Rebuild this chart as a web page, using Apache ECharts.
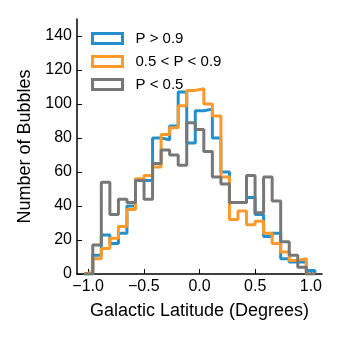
<!DOCTYPE html>
<html>
<head>
<meta charset="utf-8">
<script src="https://cdn.jsdelivr.net/npm/echarts@6/dist/echarts.min.js"></script>
<style>
  html, body { margin: 0; padding: 0; background: #fff; }
  #chart { width: 341px; height: 341px; }
</style>
</head>
<body>
<div id="chart"></div>
<script>
// histogram bins along galactic latitude (27 bins)
var binStart = -1.035;
var binWidth = 0.0767;

// counts per bin
var pHigh = [0, 11, 23, 18, 24, 40, 55, 55, 80, 79, 87, 107, 77, 96, 97, 80, 60, 42, 42, 45, 35, 22, 24, 9, 7, 7, 2];
var pMid  = [1, 9, 15, 21, 28, 38, 56, 58, 63, 82, 86, 99, 108, 109, 100, 93, 57, 32, 37, 29, 31, 24, 18, 13, 8, 9, 0];
var pLow  = [0, 17, 54, 35, 44, 42, 55, 44, 65, 73, 70, 64, 89, 85, 72, 57, 53, 42, 42, 58, 36, 57, 43, 19, 11, 4, 0];

var seriesNames = ['P > 0.9', '0.5 < P < 0.9', 'P < 0.5'];
var seriesColors = ['#2390cb', '#ff9a2a', '#777777'];

var xTicks = [-1.0, -0.5, 0.0, 0.5, 1.0];
var yTicks = [0, 20, 40, 60, 80, 100, 120, 140];

var font = 'Liberation Sans, Helvetica, Arial, sans-serif';

// turn counts into outline points for a step line
function stepPoints(counts) {
    var pts = [[binStart, 0]];
    for (var i = 0; i < counts.length; i++) {
        pts.push([binStart + i * binWidth, counts[i]]);
    }
    pts.push([binStart + counts.length * binWidth, 0]);
    return pts;
}

var allCounts = [pHigh, pMid, pLow];

var chart = echarts.init(document.getElementById('chart'), null, { renderer: 'canvas' });

chart.setOption({
    animation: false,
    textStyle: { fontFamily: font },
    grid: { left: 77, right: 19, top: 19, bottom: 67 },
    legend: {
        orient: 'vertical',
        left: 91,
        top: 31,
        padding: 0,
        itemWidth: 30,
        itemHeight: 10,
        itemGap: 8,
        icon: 'rect',
        textStyle: { fontSize: 15, color: '#000', lineHeight: 14, padding: [0, 0, 0, 8], fontFamily: font },
        data: seriesNames.map(function (n, i) {
            return {
                name: n,
                itemStyle: { color: 'transparent', borderColor: seriesColors[i], borderWidth: 3 }
            };
        })
    },
    xAxis: {
        type: 'value',
        min: -1.1,
        max: 1.1,
        name: 'Galactic Latitude (Degrees)',
        nameLocation: 'middle',
        nameGap: 28,
        nameTextStyle: { fontSize: 18, color: '#000', fontFamily: font },
        axisLine: { show: true, onZero: false, lineStyle: { color: '#000', width: 1.5 } },
        axisTick: { show: true, inside: true, length: 5, customValues: xTicks, lineStyle: { color: '#000', width: 1 } },
        axisLabel: {
            fontSize: 16, color: '#000', margin: 5,
            customValues: xTicks,
            formatter: function (v) { return v.toFixed(1).replace('-', '\u2212'); }
        },
        splitLine: { show: false }
    },
    yAxis: {
        type: 'value',
        min: 0,
        max: 150,
        name: 'Number of Bubbles',
        nameLocation: 'middle',
        nameGap: 36,
        nameTextStyle: { fontSize: 18, color: '#000', fontFamily: font },
        axisLine: { show: true, onZero: false, lineStyle: { color: '#000', width: 1.5 } },
        axisTick: { show: true, inside: true, length: 5, customValues: yTicks, lineStyle: { color: '#000', width: 1 } },
        axisLabel: { fontSize: 16, color: '#000', margin: 5, customValues: yTicks },
        splitLine: { show: false }
    },
    series: allCounts.map(function (counts, i) {
        return {
            name: seriesNames[i],
            type: 'line',
            step: 'end',
            symbol: 'none',
            color: seriesColors[i],
            lineStyle: { color: seriesColors[i], width: 3 },
            data: stepPoints(counts)
        };
    })
});
</script>
</body>
</html>
